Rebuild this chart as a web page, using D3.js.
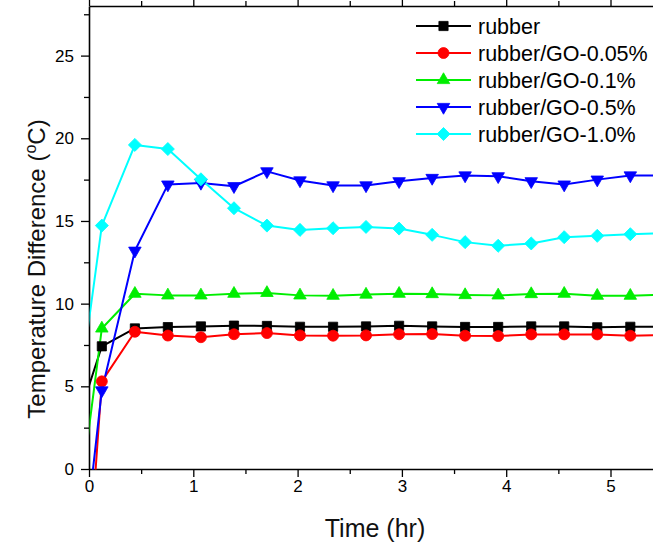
<!DOCTYPE html>
<html>
<head>
<meta charset="utf-8">
<script src="https://cdn.jsdelivr.net/npm/d3@7/dist/d3.min.js"></script>
<style>
  html, body { margin: 0; padding: 0; background: #fff; }
  svg { display: block; font-family: "Liberation Sans", Arial, sans-serif; }
</style>
</head>
<body>
<svg id="chart" width="653" height="546"></svg>
<script>
// ---- data ----
const times = [-0.193, 0.123, 0.44, 0.756, 1.073, 1.39, 1.706, 2.023, 2.34, 2.656, 2.973, 3.29, 3.606, 3.923, 4.24, 4.556, 4.873, 5.19, 5.506];
const seriesNames = ["rubber", "rubber/GO-0.05%", "rubber/GO-0.1%", "rubber/GO-0.5%", "rubber/GO-1.0%"];
const rubber    = [1.3, 7.42, 8.5, 8.58, 8.62, 8.67, 8.65, 8.6, 8.6, 8.62, 8.66, 8.62, 8.59, 8.59, 8.62, 8.62, 8.57, 8.6, 8.6];
const go005     = [-23, 5.3, 8.3, 8.07, 7.97, 8.15, 8.22, 8.08, 8.06, 8.08, 8.15, 8.16, 8.06, 8.04, 8.14, 8.14, 8.14, 8.06, 8.1];
const go01      = [-7, 8.5, 10.6, 10.5, 10.5, 10.6, 10.65, 10.5, 10.48, 10.55, 10.6, 10.58, 10.52, 10.5, 10.58, 10.6, 10.48, 10.48, 10.55];
const go05      = [-13, 4.75, 13.2, 17.2, 17.3, 17.1, 18.0, 17.45, 17.15, 17.15, 17.4, 17.6, 17.75, 17.7, 17.4, 17.2, 17.5, 17.75, 17.75];
const go10      = [0, 14.72, 19.6, 19.35, 17.52, 15.77, 14.72, 14.46, 14.56, 14.64, 14.54, 14.16, 13.72, 13.5, 13.64, 14.02, 14.1, 14.2, 14.25];
const seriesValues = [rubber, go005, go01, go05, go10];
const colors = ["#000000", "#ff0000", "#00ee00", "#0000ff", "#00ffff"];
const markerKinds = ["square", "circle", "triangleUp", "triangleDown", "diamond"];
const xMajorTicks = [0, 1, 2, 3, 4, 5];
const xMinorTicks = [0.5, 1.5, 2.5, 3.5, 4.5, 5.5];
const yMajorTicks = [0, 5, 10, 15, 20, 25];
const yMinorTicks = [2.5, 7.5, 12.5, 17.5, 22.5, 27.5];

// ---- layout ----
const svg = d3.select("#chart");
const plotLeft = 89, plotTop = 6, plotBottom = 469, pxPerHour = 104.3;
const x = d3.scaleLinear().domain([0, 6]).range([plotLeft, plotLeft + 6 * pxPerHour]);
const y = d3.scaleLinear().domain([0, 28]).range([plotBottom, plotTop]);

svg.append("defs").append("clipPath").attr("id", "plotclip")
  .append("rect").attr("x", x(0) + 0.5).attr("y", y(28)).attr("width", 700).attr("height", y(0) - y(28) + 0.5);

const fontTick = "17px";
// bottom axis
const gxMinor = svg.append("g").attr("transform", `translate(0,${plotBottom})`)
  .call(d3.axisBottom(x).tickValues(xMinorTicks).tickSize(5).tickFormat(""));
const gx = svg.append("g").attr("transform", `translate(0,${plotBottom})`)
  .call(d3.axisBottom(x).tickValues(xMajorTicks).tickSize(8).tickPadding(3).tickFormat(d3.format("d")));
// top axis
const gxt = svg.append("g").attr("transform", `translate(0,${plotTop})`)
  .call(d3.axisTop(x).tickValues(xMajorTicks).tickSize(8).tickFormat(""));
const gxtm = svg.append("g").attr("transform", `translate(0,${plotTop})`)
  .call(d3.axisTop(x).tickValues(xMinorTicks).tickSize(5).tickFormat(""));
// left axis
const gyMinor = svg.append("g").attr("transform", `translate(${plotLeft},0)`)
  .call(d3.axisLeft(y).tickValues(yMinorTicks).tickSize(5).tickFormat(""));
const gy = svg.append("g").attr("transform", `translate(${plotLeft},0)`)
  .call(d3.axisLeft(y).tickValues(yMajorTicks).tickSize(8).tickPadding(7).tickFormat(d3.format("d")));

svg.selectAll(".domain").attr("stroke", "#000").attr("stroke-width", 1.6);
svg.selectAll(".tick line").attr("stroke", "#000").attr("stroke-width", 1.3);
svg.selectAll(".tick text").attr("font-size", fontTick).attr("fill", "#000")
  .attr("font-family", "'Liberation Sans', Arial, sans-serif");
gxMinor.select(".domain").remove(); gxtm.select(".domain").remove(); gyMinor.select(".domain").remove();
gy.select(".domain").attr("d", `M0.5,${plotBottom + 0.5}V${plotTop + 0.5}`);
gx.select(".domain").attr("d", `M${plotLeft + 0.5},0.5H${x(6)}`);
gxt.select(".domain").attr("d", `M${plotLeft + 0.5},0.5H${x(6)}`);

// axis titles
svg.append("text").attr("x", 375).attr("y", 537).attr("text-anchor", "middle")
  .attr("font-size", "25px").attr("fill", "#111").text("Time (hr)");
const yt = svg.append("text").attr("transform", "translate(45,269) rotate(-90)")
  .attr("text-anchor", "middle").attr("font-size", "24px").attr("fill", "#111");
yt.append("tspan").text("Temperature Difference (");
yt.append("tspan").attr("font-size", "16px").attr("dy", "-9").text("o");
yt.append("tspan").attr("dy", "9").text("C)");

// marker generator
function markerPath(kind) {
  switch (kind) {
    case "square": return d3.symbol().type(d3.symbolSquare).size(85)();
    case "circle": return d3.symbol().type(d3.symbolCircle).size(95)();
    case "triangleUp": return d3.symbol().type(d3.symbolTriangle).size(68)();
    case "triangleDown": return d3.symbol().type(d3.symbolTriangle).size(68)();
    case "diamond": return d3.symbol().type(d3.symbolSquare).size(85)();
  }
}
function markerRotate(kind) {
  return kind === "triangleDown" ? 180 : kind === "diamond" ? 45 : 0;
}

// series
const plot = svg.append("g").attr("clip-path", "url(#plotclip)");
const line = d3.line().x(d => x(d[0])).y(d => y(d[1]));
seriesValues.forEach((vals, i) => {
  const pts = times.map((t, k) => [t, vals[k]]);
  plot.append("path").datum(pts).attr("d", line)
    .attr("fill", "none").attr("stroke", colors[i]).attr("stroke-width", 2).attr("stroke-linejoin", "round");
});
seriesValues.forEach((vals, i) => {
  const pts = times.map((t, k) => [t, vals[k]]);
  plot.selectAll(null).data(pts).enter().append("path")
    .attr("d", markerPath(markerKinds[i]))
    .attr("transform", d => `translate(${x(d[0])},${y(d[1])}) rotate(${markerRotate(markerKinds[i])})`)
    .attr("fill", colors[i]).attr("stroke", colors[i]).attr("stroke-width", 0.8);
});

// legend
const legend = svg.append("g");
seriesNames.forEach((name, i) => {
  const ly = 26 + i * 27;
  legend.append("line").attr("x1", 416).attr("x2", 471).attr("y1", ly).attr("y2", ly)
    .attr("stroke", colors[i]).attr("stroke-width", 2);
  legend.append("path").attr("d", markerPath(markerKinds[i]))
    .attr("transform", `translate(443.5,${ly}) rotate(${markerRotate(markerKinds[i])})`)
    .attr("fill", colors[i]).attr("stroke", colors[i]).attr("stroke-width", 0.8);
  legend.append("text").attr("x", 478).attr("y", ly).attr("dy", "0.35em")
    .attr("font-size", "21.5px").attr("fill", "#000").text(name);
});
</script>
</body>
</html>
